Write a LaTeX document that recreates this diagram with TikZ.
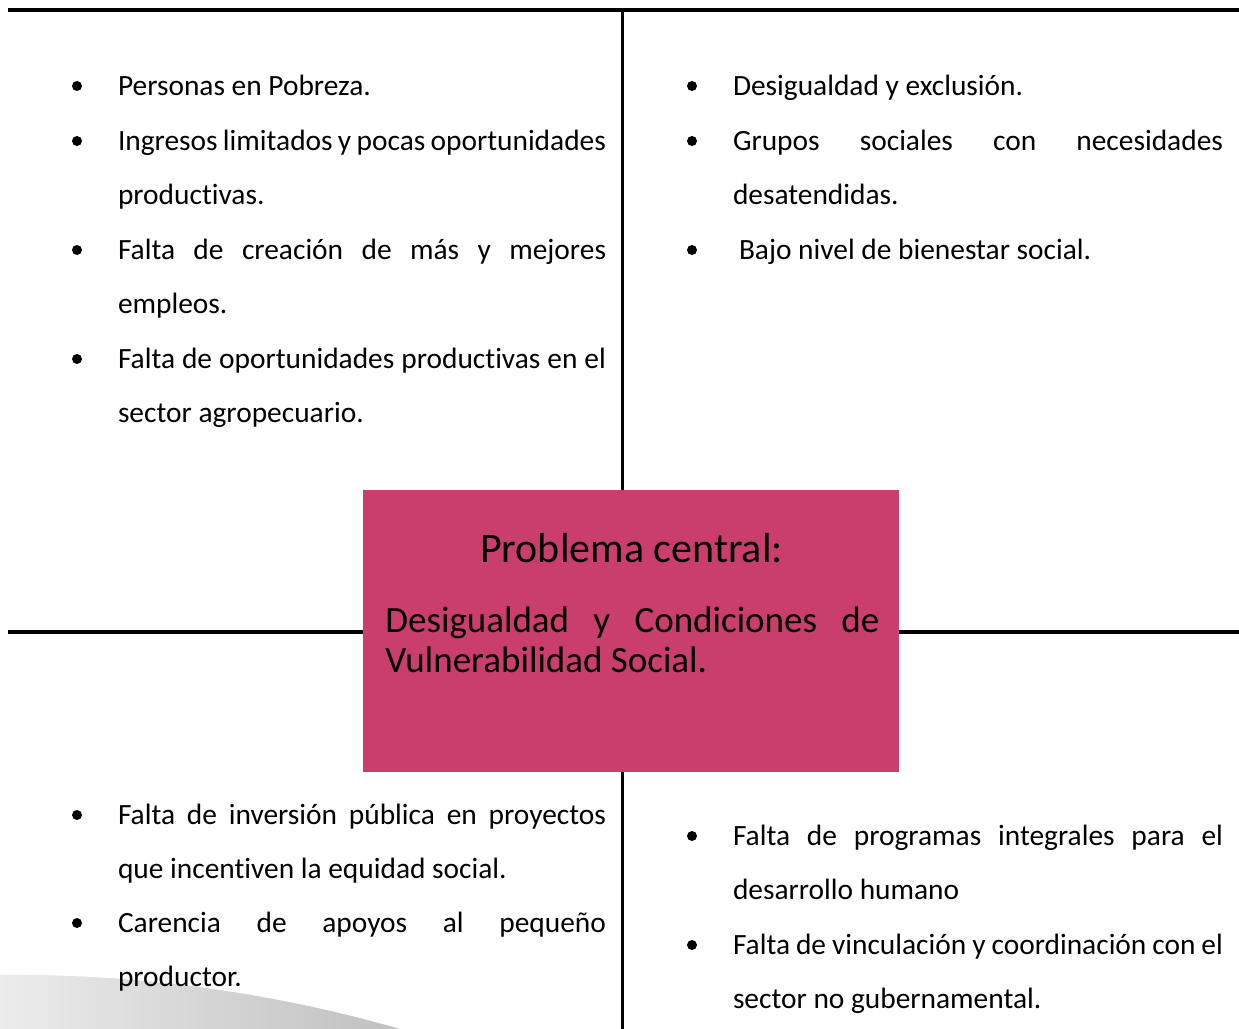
\documentclass[tikz,border=0pt]{standalone}
\usepackage{fontspec}
\setmainfont{Carlito}[Ligatures=NoCommon]
\definecolor{boxpink}{RGB}{202,62,110}
\definecolor{swlight}{RGB}{236,236,236}
\definecolor{swdark}{RGB}{192,192,192}
\newcommand{\itemtext}[2]{\parbox[t]{#1}{\fontsize{14.7pt}{27.25pt}\selectfont\hyphenpenalty=10000\exhyphenpenalty=10000 #2}}
\tikzset{
  rule/.style={line width=2pt},
  vrule/.style={line width=1.5pt},
  bulletdot/.style={circle, fill=black, inner sep=0pt, minimum size=5pt},
  itemnode/.style={anchor=base west, inner sep=0pt, outer sep=0pt},
}
\begin{document}
\begin{tikzpicture}[x=0.5pt,y=-0.5pt]
\useasboundingbox (0,0) rectangle (1239,1029);
% grey swoosh
\shade[left color=swlight, right color=swdark] (0,975) .. controls (160,973) and (300,1000) .. (400,1029) -- (0,1029) -- cycle;
% central box
\node[fill=boxpink, minimum width=268pt, minimum height=141pt, inner sep=0pt] (box) at (631,631) {};
% lines
\coordinate (tl) at (8,10);
\coordinate (tr) at (1239,10);
\coordinate (vt) at (622,11);
\coordinate (vb) at (622,1029);
\coordinate (ml) at (8,632);
\coordinate (mr) at (1239,632);
\draw[rule] (tl) -- (tr);
\draw[vrule] (vt) -- (vt |- box.north);
\draw[vrule] (vt |- box.south) -- (vb);
\draw[rule] (ml) -- (ml -| box.west);
\draw[rule] (mr -| box.east) -- (mr);
% box text
\node[anchor=base, inner sep=0pt] (ptitle) at (631.5,562) {\fontsize{21pt}{25pt}\selectfont Problema central:};
\node[anchor=base west, inner sep=0pt] (pbody) at (385,632) {\parbox[t]{247pt}{\fontsize{18.5pt}{20pt}\selectfont\hyphenpenalty=10000 Desigualdad y Condiciones de\linebreak Vulnerabilidad Social.}};
% top left
\node[bulletdot] (b1) at (77,86) {};
\node[itemnode] (l1) at (118,95) {\itemtext{244pt}{Personas en Pobreza.}};
\node[bulletdot] (b2) at (77,141) {};
\node[itemnode] (l2) at (118,150) {\itemtext{244pt}{Ingresos limitados y pocas oportunidades\linebreak productivas.}};
\node[bulletdot] (b3) at (77,250) {};
\node[itemnode] (l3) at (118,259) {\itemtext{244pt}{Falta de creación de más y mejores\linebreak empleos.}};
\node[bulletdot] (b4) at (77,359) {};
\node[itemnode] (l4) at (118,368) {\itemtext{244pt}{Falta de oportunidades productivas en el\linebreak sector agropecuario.}};
% top right
\node[bulletdot] (b5) at (692,86) {};
\node[itemnode] (r1) at (733,95) {\itemtext{245pt}{Desigualdad y exclusión.}};
\node[bulletdot] (b6) at (692,141) {};
\node[itemnode] (r2) at (733,150) {\itemtext{245pt}{Grupos sociales con necesidades\linebreak desatendidas.}};
\node[bulletdot] (b7) at (692,250) {};
\node[itemnode] (r3) at (739,259) {\itemtext{242pt}{Bajo nivel de bienestar social.}};
% bottom left
\node[bulletdot] (b8) at (77,815) {};
\node[itemnode] (l5) at (118,824) {\itemtext{244pt}{Falta de inversión pública en proyectos\linebreak que incentiven la equidad social.}};
\node[bulletdot] (b9) at (77,923) {};
\node[itemnode] (l6) at (118,932) {\itemtext{244pt}{Carencia de apoyos al pequeño\linebreak productor.}};
% bottom right
\node[bulletdot] (b10) at (692,836) {};
\node[itemnode] (r4) at (733,845) {\itemtext{245pt}{Falta de programas integrales para el\linebreak desarrollo humano}};
\node[bulletdot] (b11) at (692,945) {};
\node[itemnode] (r5) at (733,954) {\itemtext{245pt}{Falta de vinculación y coordinación con el\linebreak sector no gubernamental.}};
\end{tikzpicture}
\end{document}
